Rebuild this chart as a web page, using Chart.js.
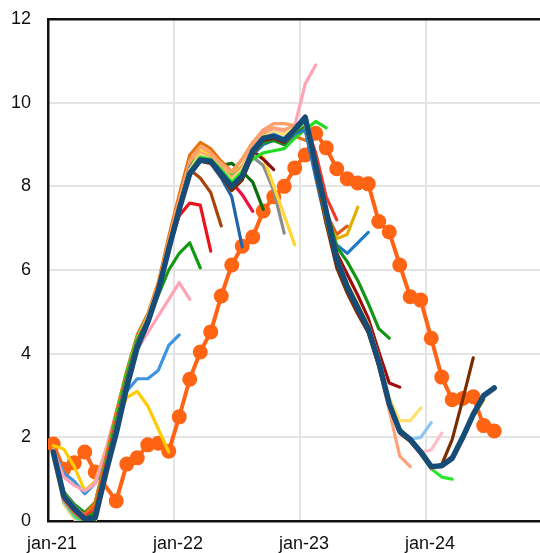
<!DOCTYPE html>
<html>
<head>
<meta charset="utf-8">
<script src="https://cdn.jsdelivr.net/npm/chart.js@4.4.1/dist/chart.umd.min.js"></script>
<style>
  html, body { margin: 0; padding: 0; background: #fff; }
  #wrap { width: 540px; height: 553px; }
</style>
</head>
<body>
<div id="wrap"><canvas id="grafico" width="540" height="553"></canvas></div>
<script>
// x = months since jan-21, every value sits mid-month
const xTicks = [0, 12, 24, 36];
const xLabels = ["jan-21", "jan-22", "jan-23", "jan-24"];

// actual (orange dots), null = missing month
const actual = [1.84, 1.24, 1.39, 1.65, 1.17, null, 0.48, 1.36, 1.51, 1.82, 1.86, 1.67,
  2.49, 3.39, 4.04, 4.52, 5.38, 6.12, 6.57, 6.79, 7.41, 7.75, 8.0, 8.44,
  8.75, 9.27, 8.92, 8.42, 8.18, 8.08, 8.06, 7.16, 6.91, 6.12, 5.36, 5.28,
  4.37, 3.44, 2.9, 2.93, 2.97, 2.28, 2.15];

// latest vintage (thick dark blue)
const latest = [1.65, 0.6, 0.3, 0.05, 0.08, 1.15, 2.1, 3.2, 4.15, 4.75, 5.5, 6.5,
  7.45, 8.3, 8.63, 8.6, 8.3, 8.0, 8.25, 8.85, 9.15, 9.2, 9.1, 9.35,
  9.65, 8.5, 7.4, 6.25, 5.6, 5.1, 4.6, 3.8, 2.8, 2.15, 1.95, 1.65,
  1.3, 1.32, 1.5, 2.0, 2.55, 3.0, 3.18];

// older vintages
const f01 = [1.8, 1.72, 1.3, 0.72, 0.95, 1.7, 2.4, 2.95, 3.1, 2.75, 2.2, 1.65];
const f02 = [1.7, 1.15, 0.95, 0.65, 0.9, 1.6, 2.4, 3.1, 3.4, 3.4, 3.6, 4.2, 4.45];
const f03 = [1.7, 1.05, 0.85, 0.72, 0.9, 1.7, 2.6, 3.5, 4.1, 4.5, 4.9, 5.3, 5.7, 5.3];
const f04 = [1.6, 0.7, 0.4, 0.2, 0.45, 1.45, 2.5, 3.5, 4.3, 4.8, 5.4, 6.0, 6.4, 6.65, 6.05];
const f05 = [1.65, 0.6, 0.3, 0.15, 0.4, 1.35, 2.4, 3.45, 4.3, 4.8, 5.5, 6.5, 7.3, 7.6, 7.55, 6.45];
const f06 = [1.6, 0.55, 0.25, 0.1, 0.3, 1.25, 2.3, 3.4, 4.3, 4.8, 5.5, 6.5, 7.5, 8.4, 8.2, 7.85, 7.05];
const f07 = [1.6, 0.55, 0.25, 0.08, 0.2, 1.2, 2.25, 3.35, 4.25, 4.75, 5.5, 6.5, 7.5, 8.45, 8.75, 8.55, 8.2, 7.75, 6.55];
const f08 = [1.65, 0.6, 0.3, 0.1, 0.25, 1.25, 2.3, 3.35, 4.25, 4.8, 5.5, 6.55, 7.5, 8.4, 8.75, 8.6, 8.4, 8.1, 7.8, 7.4];
const f09 = [1.6, 0.5, 0.2, 0.05, 0.3, 1.35, 2.45, 3.5, 4.35, 4.85, 5.6, 6.6, 7.55, 8.45, 8.8, 8.7, 8.5, 8.55, 8.35, 8.1, 7.45];
const f10 = [1.65, 0.55, 0.25, 0.05, 0.2, 1.2, 2.25, 3.35, 4.25, 4.75, 5.5, 6.5, 7.45, 8.35, 8.65, 8.6, 8.35, 8.1, 8.35, 8.7, 8.5, 7.9, 6.88];
const f11 = [1.7, 0.6, 0.3, 0.1, 0.3, 1.35, 2.45, 3.45, 4.35, 4.85, 5.6, 6.6, 7.6, 8.5, 8.85, 8.75, 8.45, 8.25, 8.5, 8.8, 8.7, 8.0, 7.3, 6.6];
const f12 = [1.6, 0.5, 0.2, 0.05, 0.25, 1.3, 2.35, 3.4, 4.3, 4.8, 5.55, 6.55, 7.5, 8.4, 8.7, 8.6, 8.4, 8.2, 8.45, 8.85, 8.65, 8.4];
const f13 = [1.7, 0.6, 0.3, 0.15, 0.45, 1.5, 2.6, 3.6, 4.45, 4.95, 5.7, 6.8, 7.8, 8.75, 9.05, 8.9, 8.6, 8.35, 8.65, 9.05, 9.25, 9.35, 9.25, 9.2, 9.1];
const f14 = [1.7, 0.65, 0.35, 0.1, 0.3, 1.3, 2.35, 3.4, 4.3, 4.8, 5.5, 6.5, 7.5, 8.35, 8.6, 8.55, 8.3, 8.05, 8.4, 8.9, 9.3, 9.35, 9.3, 9.45, 10.45, 10.9];
const f15 = [1.6, 0.5, 0.2, 0.05, 0.3, 1.4, 2.5, 3.55, 4.4, 4.9, 5.6, 6.6, 7.6, 8.5, 8.75, 8.6, 8.4, 8.25, 8.4, 8.65, 8.8, 8.85, 8.9, 9.15, 9.35, 9.55, 9.4];
const f16 = [1.7, 0.55, 0.2, 0.02, 0.2, 1.25, 2.35, 3.45, 4.35, 4.9, 5.65, 6.7, 7.7, 8.6, 8.95, 8.8, 8.55, 8.35, 8.65, 9.05, 9.35, 9.5, 9.5, 9.45, 9.4];
const f17 = [1.65, 0.6, 0.3, 0.1, 0.3, 1.35, 2.4, 3.45, 4.3, 4.8, 5.55, 6.55, 7.5, 8.4, 8.7, 8.6, 8.35, 8.1, 8.35, 8.85, 9.1, 9.15, 9.05, 9.3, 9.5, 8.8, 7.75, 7.2];
const f18 = [1.6, 0.55, 0.25, 0.05, 0.2, 1.2, 2.3, 3.4, 4.3, 4.8, 5.55, 6.55, 7.5, 8.4, 8.7, 8.55, 8.3, 8.05, 8.3, 8.8, 9.1, 9.2, 9.1, 9.35, 9.45, 8.45, 7.35, 6.85, 7.05];
const f19 = [1.65, 0.55, 0.2, 0.0, 0.15, 1.15, 2.25, 3.35, 4.25, 4.75, 5.5, 6.5, 7.5, 8.4, 8.7, 8.6, 8.35, 8.1, 8.35, 8.8, 9.05, 9.1, 9.0, 9.25, 9.35, 8.3, 7.2, 6.75, 6.85, 7.5];
const f20 = [1.6, 0.5, 0.2, 0.02, 0.15, 1.2, 2.3, 3.4, 4.3, 4.8, 5.55, 6.55, 7.5, 8.45, 8.75, 8.6, 8.35, 8.05, 8.3, 8.75, 9.0, 9.1, 9.0, 9.25, 9.35, 8.2, 7.1, 6.6, 6.4, 6.65, 6.9];
const f21 = [1.65, 0.55, 0.25, 0.05, 0.2, 1.2, 2.3, 3.4, 4.3, 4.8, 5.55, 6.55, 7.5, 8.4, 8.7, 8.65, 8.4, 8.15, 8.35, 8.8, 9.05, 9.1, 9.0, 9.3, 9.45, 8.6, 7.45, 6.55, 6.2, 5.75, 5.2, 4.6, 4.37];
const f22 = [1.6, 0.5, 0.2, 0.0, 0.1, 1.1, 2.2, 3.3, 4.25, 4.75, 5.5, 6.5, 7.45, 8.35, 8.65, 8.6, 8.35, 8.05, 8.3, 8.8, 9.1, 9.15, 9.05, 9.3, 9.5, 8.5, 7.35, 6.4, 5.9, 5.4, 4.85, 4.05, 3.3, 3.2];
const f23 = [1.55, 0.45, 0.1, -0.1, 0.0, 1.0, 2.1, 3.2, 4.15, 4.7, 5.45, 6.45, 7.45, 8.4, 8.8, 8.7, 8.45, 8.2, 8.45, 8.95, 9.3, 9.4, 9.35, 9.45, 9.55, 8.45, 7.25, 6.25, 5.65, 5.15, 4.6, 3.7, 2.65, 1.55, 1.3];
const f24 = [1.55, 0.4, 0.05, -0.15, 0.0, 1.05, 2.15, 3.25, 4.2, 4.7, 5.45, 6.5, 7.45, 8.4, 8.75, 8.65, 8.4, 8.15, 8.4, 8.9, 9.2, 9.3, 9.25, 9.4, 9.5, 8.5, 7.3, 6.3, 5.7, 5.2, 4.7, 3.9, 2.95, 2.4, 2.4, 2.7];
const f25 = [1.6, 0.45, 0.1, -0.1, 0.05, 1.1, 2.2, 3.3, 4.2, 4.7, 5.45, 6.5, 7.45, 8.35, 8.7, 8.6, 8.35, 8.05, 8.35, 8.85, 9.15, 9.25, 9.15, 9.35, 9.5, 8.4, 7.2, 6.25, 5.6, 5.1, 4.6, 3.8, 2.8, 2.2, 1.95, 2.0, 2.35];
const f26 = [1.6, 0.5, 0.15, 0.0, 0.1, 1.1, 2.2, 3.3, 4.2, 4.7, 5.45, 6.45, 7.4, 8.3, 8.65, 8.6, 8.3, 8.0, 8.3, 8.8, 9.15, 9.2, 9.1, 9.35, 9.55, 8.4, 7.2, 6.2, 5.6, 5.1, 4.6, 3.75, 2.75, 2.15, 1.95, 1.65, 1.7, 2.1];
const f27 = [1.6, 0.5, 0.15, -0.05, 0.05, 1.1, 2.2, 3.3, 4.25, 4.75, 5.5, 6.5, 7.45, 8.35, 8.7, 8.65, 8.4, 8.1, 8.35, 8.85, 9.15, 9.2, 9.1, 9.3, 9.55, 8.45, 7.25, 6.25, 5.65, 5.15, 4.65, 3.85, 2.8, 2.2, 1.95, 1.6, 1.25, 1.05, 1.0];
const f28 = [1.6, 0.5, 0.2, 0.0, 0.1, 1.1, 2.2, 3.3, 4.2, 4.7, 5.45, 6.5, 7.45, 8.35, 8.65, 8.6, 8.3, 8.0, 8.25, 8.8, 9.15, 9.2, 9.1, 9.35, 9.6, 8.4, 7.2, 6.2, 5.6, 5.1, 4.6, 3.8, 2.8, 2.15, 1.95, 1.65, 1.25, 1.35, 1.55, 1.95];
const f29 = [1.65, 0.55, 0.25, 0.02, 0.05, 1.1, 2.15, 3.25, 4.2, 4.75, 5.5, 6.5, 7.45, 8.3, 8.6, 8.55, 8.25, 7.9, 8.15, 8.75, 9.15, 9.2, 9.1, 9.4, 9.68, 8.35, 7.1, 6.05, 5.45, 4.95, 4.5, 3.7, 2.75, 2.1, 1.9, 1.6, 1.28, 1.35, 1.95, 2.9, 3.9];
const f30 = [1.65, 0.6, 0.3, 0.05, 0.08, 1.1, 2.15, 3.25, 4.2, 4.75, 5.5, 6.5, 7.45, 8.3, 8.63, 8.6, 8.3, 8.0, 8.25, 8.8, 9.15, 9.2, 9.1, 9.35, 9.62, 8.4, 7.2, 6.2, 5.6, 5.1, 4.6, 3.8, 2.8, 2.15, 1.95, 1.65, 1.3, 1.32, 1.5, 1.95, 2.5, 2.9];

const vintages = [f01, f02, f03, f04, f05, f06, f07, f08, f09, f10, f11, f12, f13, f14, f15,
  f16, f17, f18, f19, f20, f21, f22, f23, f24, f25, f26, f27, f28, f29, f30];
const vintageColors = ["#FFCC00", "#3D94E0", "#FFA3B5", "#119A11", "#E8141E", "#A8430C",
  "#1F64A8", "#F0103C", "#0B6E0B", "#8C8C8C", "#FFD633", "#8B0A0A", "#E8720C", "#FFA3B5",
  "#22DD22", "#FFA066", "#F03A2A", "#E05A14", "#E0B000", "#1E7BC8", "#149414", "#A00A0A",
  "#FFA27A", "#FFE070", "#8CC4F2", "#FFBCCB", "#2EE62E", "#F06060", "#7A2E00", "#A08A00"];

function puntos(valores) {
  return valores.map((v, i) => ({ x: i + 0.5, y: v }));
}

const datasets = [];
datasets.push({
  data: puntos(latest),
  borderColor: "#164C78",
  borderWidth: 5.5,
  pointRadius: 0,
  order: 0,
});
vintages.forEach((serie, k) => {
  datasets.push({
    data: puntos(serie),
    borderColor: vintageColors[k],
    borderWidth: 3.2,
    pointRadius: 0,
    order: 60 - k,
  });
});
datasets.push({
  data: puntos(actual),
  borderColor: "#FF6414",
  backgroundColor: "#FF6414",
  borderWidth: 4,
  pointRadius: 7.5,
  pointBorderWidth: 0,
  spanGaps: true,
  order: 100,
});

const ejeTexto = { family: "'Liberation Sans', Arial, sans-serif", size: 18 };

new Chart(document.getElementById("grafico").getContext("2d"), {
  type: "line",
  data: { datasets: datasets },
  options: {
    responsive: false,
    animation: false,
    layout: { autoPadding: false, padding: { top: 19, right: 0, left: 0, bottom: 0 } },
    elements: { line: { tension: 0, borderJoinStyle: "round", borderCapStyle: "round" } },
    plugins: { legend: { display: false }, tooltip: { enabled: false } },
    scales: {
      x: {
        type: "linear",
        min: 0,
        max: 46.86,
        afterBuildTicks: (s) => { s.ticks = xTicks.map((v) => ({ value: v })); },
        afterFit: (s) => { s.height = 32; },
        ticks: {
          callback: (v) => xLabels[xTicks.indexOf(v)],
          font: ejeTexto,
          color: "#111",
          padding: 12,
          maxRotation: 0,
          autoSkip: false,
          labelOffset: 4,
        },
        grid: { color: "#e4e4e4", lineWidth: 2, drawTicks: false },
        border: { color: "#111", width: 2.5 },
      },
      top: {
        type: "linear",
        position: "top",
        grid: { display: false, drawTicks: false },
        ticks: { display: false },
        afterFit: (s) => { s.height = 0; },
        border: { color: "#111", width: 2.5 },
      },
      y: {
        min: 0,
        max: 12,
        afterFit: (s) => { s.width = 48; s.paddingTop = 0; s.paddingBottom = 0; },
        ticks: { stepSize: 2, font: ejeTexto, color: "#111", padding: 17 },
        grid: { color: "#e4e4e4", lineWidth: 2, drawTicks: false },
        border: { color: "#111", width: 2.5 },
      },
    },
  },
});
</script>
</body>
</html>
